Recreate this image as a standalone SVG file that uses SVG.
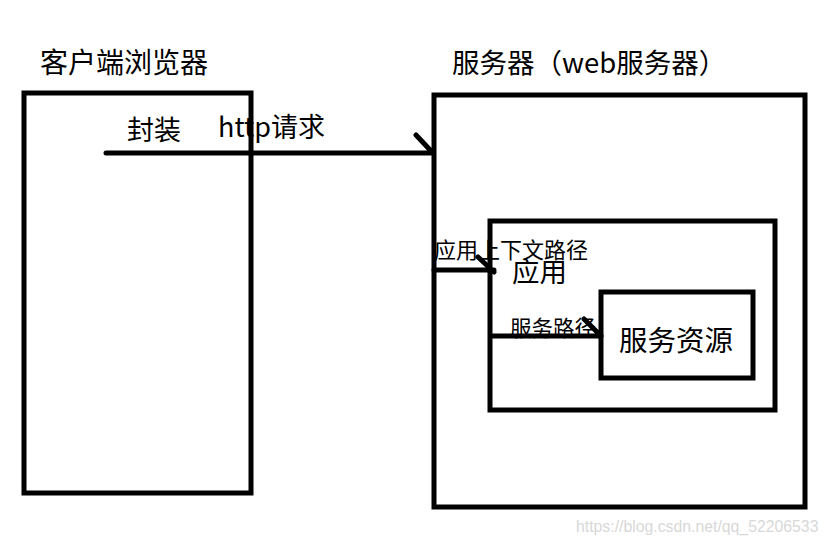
<svg xmlns="http://www.w3.org/2000/svg" width="829" height="546" viewBox="0 0 829 546">
<style>
.box{fill:none;stroke:#000;stroke-width:5}
.ln{fill:none;stroke:#000;stroke-width:5;stroke-linecap:round}
.t{font-family:"Noto Sans CJK SC","Microsoft YaHei","Noto Sans",sans-serif;fill:#000}
.wm{font-family:"Liberation Sans",Arial,sans-serif;fill:#d8d8d8;font-size:15.8px}
</style>
<rect width="829" height="546" fill="#fff"/>
<g id="client">
<text class="t" x="40" y="73" font-size="28">客户端浏览器</text>
<rect class="box" x="24" y="93" width="227" height="400"/>
<text class="t" x="127" y="140" font-size="27">封装</text>
</g>
<g id="server">
<text class="t" x="452" y="73" font-size="27.5">服务器（web服务器）</text>
<rect class="box" x="434" y="95" width="371" height="412"/>
</g>
<g id="app">
<rect class="box" x="490" y="221" width="285" height="189"/>
<text class="t" x="512" y="282" font-size="27.5">应用</text>
</g>
<g id="resource">
<rect class="box" x="601" y="292" width="152" height="86"/>
<text class="t" x="619" y="351" font-size="28.5">服务资源</text>
</g>
<g id="labels">
<text class="t" x="218" y="137" font-size="27">http请求</text>
<text class="t" x="434" y="258" font-size="22">应用上下文路径</text>
<text class="t" x="510" y="336" font-size="21.5">服务路径</text>
</g>
<g id="connectors">
<path class="ln" d="M106,153 H432 M416,135 L432,152"/>
<path class="ln" d="M434,270 H494 M478,257 L494,272"/>
<path class="ln" d="M491,336 H601 M584,319 L601,336"/>
</g>
<text class="wm" x="576" y="532">https://blog.csdn.net/qq_52206533</text>
</svg>
